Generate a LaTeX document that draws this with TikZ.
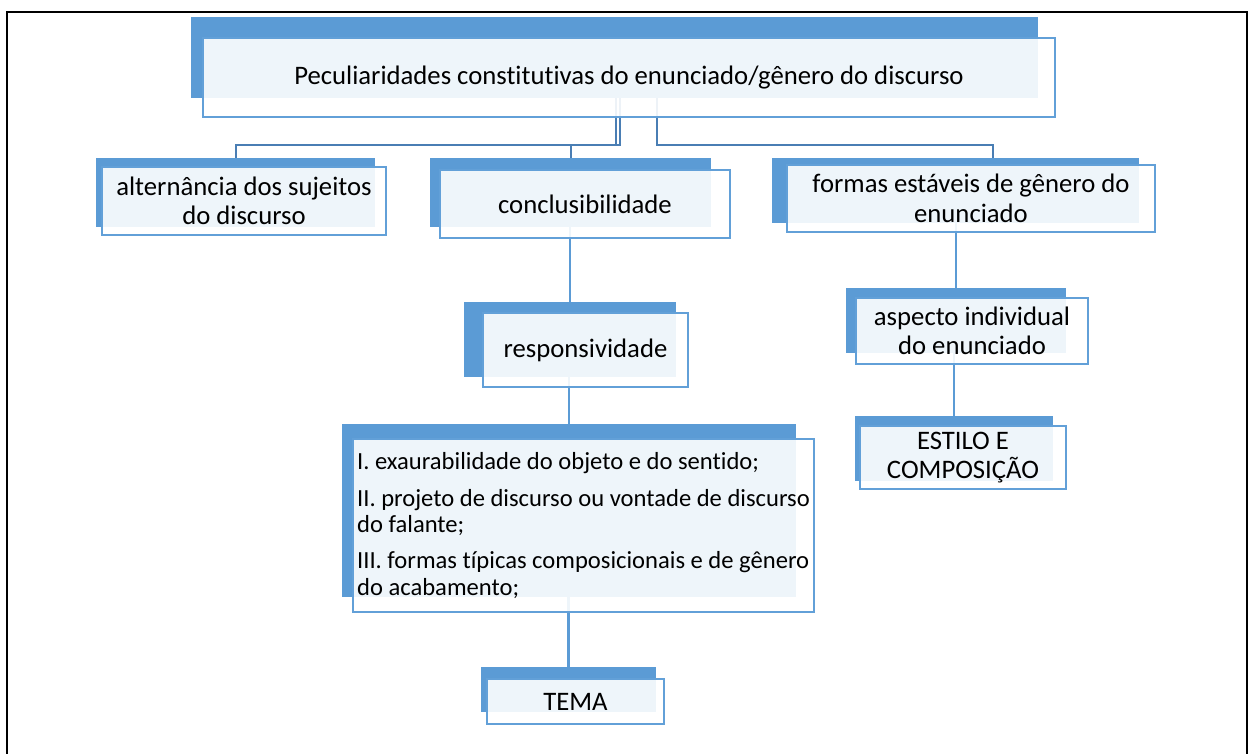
\documentclass[tikz,border=0pt]{standalone}
\usepackage{fontspec}
\setmainfont{Carlito}[Ligatures=NoCommon]
\usetikzlibrary{backgrounds}
\definecolor{boxblue}{HTML}{5B9BD5}
\definecolor{rimblue}{HTML}{62A0D8}
\definecolor{busblue}{HTML}{4A7EB4}

\begin{document}
\begin{tikzpicture}[x=1pt, y=-1pt,
        bk/.style={fill=boxblue, inner sep=0pt},
        card/.style={draw=rimblue, line width=2.2pt, fill=white, fill opacity=0.9,
          text opacity=1, inner sep=0pt, align=center,
          font=\fontsize{26.7}{29.5}\selectfont},
        bus/.style={draw=busblue, line width=2pt},
        conn/.style={draw=boxblue, line width=2.5pt}
      ]
  \useasboundingbox (0,0) rectangle (1248,753);
  \draw[line width=2pt] (6.5,760) |- (1246.5,11.5) -- (1246.5,760);

  % blue backs
  \foreach \nm/\cx/\cy/\w/\h in {top/614.5/57.5/847/81, alt/235.5/192.5/279/69,
      conc/570.5/192.5/281/69, formas/955.5/190.5/367/65, resp/570/339.5/212/75,
      asp/956/320.5/220/65, estilo/954/448.5/198/65, big/569/510.5/454/173,
      tema/568.5/689.5/175/45} {
    \node[bk, minimum width=\w pt, minimum height=\h pt] (\nm-bk) at (\cx,\cy) {};
  }

  \node[card, minimum width=852pt, minimum height=79pt] (top) at (629,77.5)
    {Peculiaridades constitutivas do enunciado/gênero do discurso};
  \node[card, minimum width=284pt, minimum height=68pt] (alt) at (244,201)
    {alternância dos sujeitos\\do discurso};
  \node[card, minimum width=290pt, minimum height=68pt] (conc) at (585,204)
    {conclusibilidade};
  \node[card, minimum width=368pt, minimum height=67pt] (formas) at (971,198.5)
    {formas estáveis de gênero do\\enunciado};
  \node[card, minimum width=205pt, minimum height=74pt] (resp) at (585.5,350)
    {responsividade};
  \node[card, minimum width=232pt, minimum height=66pt] (asp) at (972,331)
    {aspecto individual\\do enunciado};
  \node[card, minimum width=206pt, minimum height=63pt] (estilo) at (963,457.5)
    {ESTILO E\\COMPOSIÇÃO};
  \node[card, align=left, minimum width=461pt, minimum height=173pt,
        font=\fontsize{24.6}{26.3}\selectfont] (big) at (583.5,525.5)
    {I. exaurabilidade do objeto e do sentido;\\[10pt]
     II. projeto de discurso ou vontade de discurso\\do falante;\\[10pt]
     III. formas típicas composicionais e de gênero\\do acabamento;};
  \node[card, minimum width=177pt, minimum height=45pt] (tema) at (575.5,701.5)
    {TEMA};

  \begin{scope}[on background layer]
    \coordinate (busy) at (0,145);
    \draw[bus] ([xshift=-13pt]top.center) |- (busy -| alt-bk.north) -- (alt-bk.north);
    \draw[bus] ([xshift=-9pt]top.center) |- (busy -| conc-bk.north) -- (conc-bk.north);
    \draw[bus] ([xshift=28pt]top.center) |- ([xshift=37.5pt]busy -| formas-bk.north)
      -- ([xshift=37.5pt]formas-bk.north);
    \foreach \a/\b in {conc/resp, resp/big, big/tema, formas/asp, asp/estilo}
      \draw[conn] (\b-bk.north) -- (\b-bk.north |- \a.center);
  \end{scope}
\end{tikzpicture}
\end{document}
